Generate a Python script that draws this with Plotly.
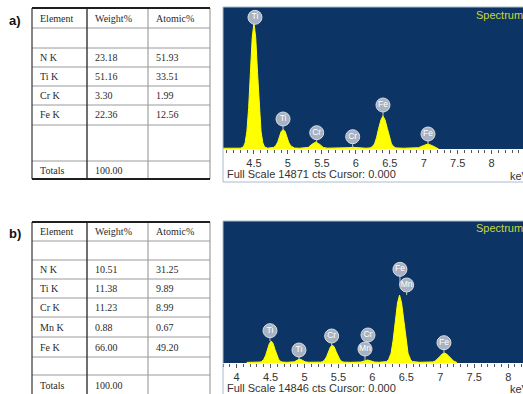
import plotly.graph_objects as go

W, H = 523, 394

# ---------------- data ----------------
table_a_elements = ["N K", "Ti K", "Cr K", "Fe K"]
table_a_weight = [23.18, 51.16, 3.30, 22.36]
table_a_atomic = [51.93, 33.51, 1.99, 12.56]
table_a_total = 100.00

table_b_elements = ["N K", "Ti K", "Cr K", "Mn K", "Fe K"]
table_b_weight = [10.51, 11.38, 11.23, 0.88, 66.00]
table_b_atomic = [31.25, 9.89, 8.99, 0.67, 49.20]
table_b_total = 100.00

table_headers = ["Element", "Weight%", "Atomic%"]

# spectrum a (keV, counts)
spec_a_kev = [4.03, 4.30, 4.344, 4.370, 4.396, 4.422, 4.448, 4.474, 4.500, 4.526, 4.552, 4.578, 4.604, 4.630, 4.656,
              4.70, 4.765, 4.79, 4.82, 4.85, 4.875, 4.90, 4.93, 4.96, 4.985, 5.01, 5.04, 5.07, 5.095,
              5.17, 5.24, 5.30, 5.35, 5.41, 5.47, 5.52, 5.58,
              5.70, 5.85, 5.90, 5.95, 6.00, 6.05,
              6.15, 6.21, 6.24, 6.275, 6.305, 6.335, 6.37, 6.40, 6.43, 6.465, 6.495, 6.525, 6.56, 6.59,
              6.70, 6.856, 6.924, 6.992, 7.06, 7.128, 7.196, 7.22]
spec_a_cts = [80, 85, 220, 660, 1850, 4340, 8040, 11650, 13200, 11650, 8040, 4340, 1850, 660, 220,
              90, 102, 167, 346, 720, 1276, 1818, 2050, 1818, 1276, 720, 346, 167, 102,
              82, 87, 168, 475, 730, 475, 168, 87,
              80, 90, 140, 180, 140, 90,
              80, 117, 228, 535, 1175, 2126, 3052, 3450, 3052, 2126, 1175, 535, 228, 117,
              80, 85, 139, 347, 520, 347, 139, 0]

# spectrum b (keV, counts)
spec_b_kev = [4.15, 4.30, 4.345, 4.37, 4.40, 4.428, 4.455, 4.483, 4.51, 4.538, 4.565, 4.593, 4.62, 4.65, 4.675,
              4.74, 4.80, 4.85, 4.89, 4.93, 4.97, 5.01, 5.06,
              5.15, 5.239, 5.268, 5.296, 5.325, 5.353, 5.382, 5.41, 5.439, 5.467, 5.496, 5.524, 5.553, 5.581,
              5.68, 5.76, 5.83, 5.88, 5.93, 5.98, 6.03, 6.10,
              6.16, 6.21, 6.24, 6.275, 6.305, 6.335, 6.37, 6.40, 6.43, 6.465, 6.495, 6.525, 6.56, 6.59,
              6.70, 6.856, 6.89, 6.924, 6.958, 6.992, 7.026, 7.06, 7.094, 7.128, 7.162, 7.196, 7.23, 7.25]
spec_b_cts = [70, 75, 95, 168, 371, 795, 1424, 2037, 2300, 2037, 1424, 795, 371, 168, 95,
              72, 80, 120, 280, 420, 280, 120, 80,
              72, 90, 150, 314, 658, 1169, 1666, 1880, 1666, 1169, 658, 314, 150, 90,
              72, 75, 102, 216, 310, 216, 102, 75,
              72, 147, 379, 1019, 2355, 4337, 6270, 7100, 6270, 4337, 2355, 1019, 379, 147,
              72, 81, 113, 202, 389, 665, 934, 1050, 934, 665, 389, 202, 113, 0]

# peak labels: element, keV, label height (counts), peak top (counts)
labels_a_el = ["Ti", "Ti", "Cr", "Cr", "Fe", "Fe"]
labels_a_kev = [4.515, 4.928, 5.424, 5.954, 6.40, 7.063]
labels_a_cts = [13790, 3141, 1707, 1288, 4607, 1570]
labels_a_peak = [13200, 2050, 730, 180, 3450, 520]

labels_b_el = ["Ti", "Ti", "Cr", "Cr", "Mn", "Fe", "Mn", "Fe"]
labels_b_kev = [4.492, 4.919, 5.40, 5.935, 5.891, 6.406, 6.505, 7.054]
labels_b_cts = [3377, 1359, 2823, 2927, 1464, 9796, 8155, 2122]
labels_b_peak = [2300, 420, 1880, 1464, 310, 8155, 7100, 1050]

full_scale_a = 14871
full_scale_b = 14846

# ---------------- helpers ----------------
def px(x):
    return x / W

def py(y):
    return 1 - y / H

NAVY = "#0c3465"
YELLOW = "#ffff00"
LABEL_GRAY = "#a7b2c2"

fig = go.Figure()
shapes = []
annotations = []

# ---------------- spectra ----------------
def add_spectrum(idx, kev, cts, lab_el, lab_kev, lab_cts, lab_peak, top, base, xrange, fscale):
    xa = "x" if idx == 1 else "x2"
    ya = "y" if idx == 1 else "y2"
    fig.add_trace(go.Scatter(x=kev, y=cts, mode="lines", fill="tozeroy",
                             line=dict(color=YELLOW, width=1), fillcolor=YELLOW,
                             xaxis=xa, yaxis=ya, hoverinfo="skip", showlegend=False))
    sx, sy = [], []
    for k, c, p in zip(lab_kev, lab_cts, lab_peak):
        sx += [k, k, None]
        sy += [c, p, None]
    fig.add_trace(go.Scatter(x=sx, y=sy, mode="lines", line=dict(color="#c4ccd8", width=1),
                             xaxis=xa, yaxis=ya, hoverinfo="skip", showlegend=False))
    fig.add_trace(go.Scatter(x=lab_kev, y=lab_cts, mode="markers+text", text=lab_el,
                             textposition="middle center",
                             textfont=dict(color="white", size=8.5, family="Liberation Sans, Arial"),
                             marker=dict(size=14, color=LABEL_GRAY, line=dict(color="#d8dee6", width=1)),
                             xaxis=xa, yaxis=ya, hoverinfo="skip", showlegend=False))
    axis_common = dict(
        showgrid=False, zeroline=False, showline=False,
        ticks="outside", tickcolor="#555", ticklen=4, tickwidth=1,
        tick0=0, dtick=0.5,
        minor=dict(ticks="outside", dtick=0.1, ticklen=2.5, tickcolor="#555", tickwidth=1),
        tickfont=dict(size=11, color="#333", family="Liberation Sans, Arial"),
    )
    xkey = "xaxis" if idx == 1 else "xaxis2"
    ykey = "yaxis" if idx == 1 else "yaxis2"
    fig.layout[xkey] = dict(domain=[px(223), 1], range=xrange, anchor=ya, fixedrange=True, **axis_common)
    fig.layout[ykey] = dict(domain=[py(base), py(top)], range=[0, fscale], anchor=xa,
                            visible=False, fixedrange=True)


add_spectrum(1, spec_a_kev, spec_a_cts, labels_a_el, labels_a_kev, labels_a_cts, labels_a_peak,
             top=7, base=149, xrange=[4.044, 8.462], fscale=full_scale_a)
add_spectrum(2, spec_b_kev, spec_b_cts, labels_b_el, labels_b_kev, labels_b_cts, labels_b_peak,
             top=221, base=363, xrange=[3.800, 8.218], fscale=full_scale_b)

# frames around spectra panels
for (t, b) in [(7, 182), (221, 396)]:
    shapes.append(dict(type="rect", xref="paper", yref="paper",
                       x0=px(223), x1=px(530), y0=py(b), y1=py(t),
                       line=dict(color="#a9bccf", width=1)))

spec_text_font = dict(size=11, color="#333", family="Liberation Sans, Arial")
for fs, yline, ykev, ytop in [(full_scale_a, 174, 176, 15), (full_scale_b, 388, 389, 228)]:
    annotations.append(dict(text=f"Full Scale {fs} cts Cursor: 0.000", x=px(225), y=py(yline),
                            xref="paper", yref="paper", xanchor="left", yanchor="middle",
                            showarrow=False, font=spec_text_font))
    annotations.append(dict(text="keV", x=px(508), y=py(ykev), xref="paper", yref="paper",
                            xanchor="left", yanchor="middle", showarrow=False, font=spec_text_font))
    annotations.append(dict(text="Spectrum 1", x=px(474), y=py(ytop), xref="paper", yref="paper",
                            xanchor="left", yanchor="middle", showarrow=False,
                            font=dict(size=11, color="#cdd63a", family="Liberation Sans, Arial")))

# ---------------- tables ----------------
COLS = [32, 87, 148, 210]
TXT_X = [38, 93, 154]
tfont = dict(size=10, color="#2a2a2a", family="Liberation Serif, Times New Roman")


def line(x0, y0, x1, y1, color, width):
    shapes.append(dict(type="line", xref="paper", yref="paper",
                       x0=px(x0), y0=py(y0), x1=px(x1), y1=py(y1),
                       line=dict(color=color, width=width)))


def text(t, x, y):
    annotations.append(dict(text=t, x=px(x), y=py(y), xref="paper", yref="paper",
                            xanchor="left", yanchor="middle", showarrow=False, font=tfont))


def add_table(rows_y, elements, weight, atomic, total, draw_bottom):
    top, bottom = rows_y[0], rows_y[-1]
    for y in rows_y[1:-1]:
        line(COLS[0], y, COLS[3], y, "#9a9a9a", 1)
    line(COLS[0], top, COLS[0], bottom, "#333", 1.2)
    line(COLS[1], top, COLS[1], bottom, "#333", 1.4)
    line(COLS[2], top, COLS[2], bottom, "#a0a0a0", 1.2)
    line(COLS[3], top, COLS[3], bottom, "#a0a0a0", 1.2)
    line(COLS[0], top, COLS[3], top, "#1e1e1e", 2)
    if draw_bottom:
        line(COLS[0], bottom, COLS[3], bottom, "#1e1e1e", 2)
    hy = (rows_y[0] + rows_y[1]) / 2
    for t, x in zip(table_headers, TXT_X):
        text(t, x, hy)
    for i, (e, w, a) in enumerate(zip(elements, weight, atomic)):
        cy = (rows_y[2 + i] + rows_y[3 + i]) / 2
        text(e, TXT_X[0], cy)
        text(f"{w:.2f}", TXT_X[1], cy)
        text(f"{a:.2f}", TXT_X[2], cy)
    ty = (rows_y[-2] + rows_y[-1]) / 2 if draw_bottom else 385
    text("Totals", TXT_X[0], ty)
    text(f"{total:.2f}", TXT_X[1], ty)


add_table([8, 28, 48, 67, 86, 105, 125, 161, 179],
          table_a_elements, table_a_weight, table_a_atomic, table_a_total, True)
add_table([222, 241, 260, 279, 298, 317, 337, 357, 375, 396],
          table_b_elements, table_b_weight, table_b_atomic, table_b_total, False)

for t, y in [("a)", 20), ("b)", 233)]:
    annotations.append(dict(text=f"<b>{t}</b>", x=px(7), y=py(y), xref="paper", yref="paper",
                            xanchor="left", yanchor="middle", showarrow=False,
                            font=dict(size=13, color="#111", family="Liberation Sans, Arial")))

fig.update_layout(
    width=W, height=H,
    margin=dict(l=0, r=0, t=0, b=0),
    paper_bgcolor="white", plot_bgcolor=NAVY,
    showlegend=False, hovermode=False,
    shapes=shapes, annotations=annotations,
)

fig.write_html("out.html",
               config={"displayModeBar": False, "staticPlot": True},
               post_script="document.body.style.margin='0';document.body.style.padding='0';"
                           "document.body.style.overflow='hidden';")
